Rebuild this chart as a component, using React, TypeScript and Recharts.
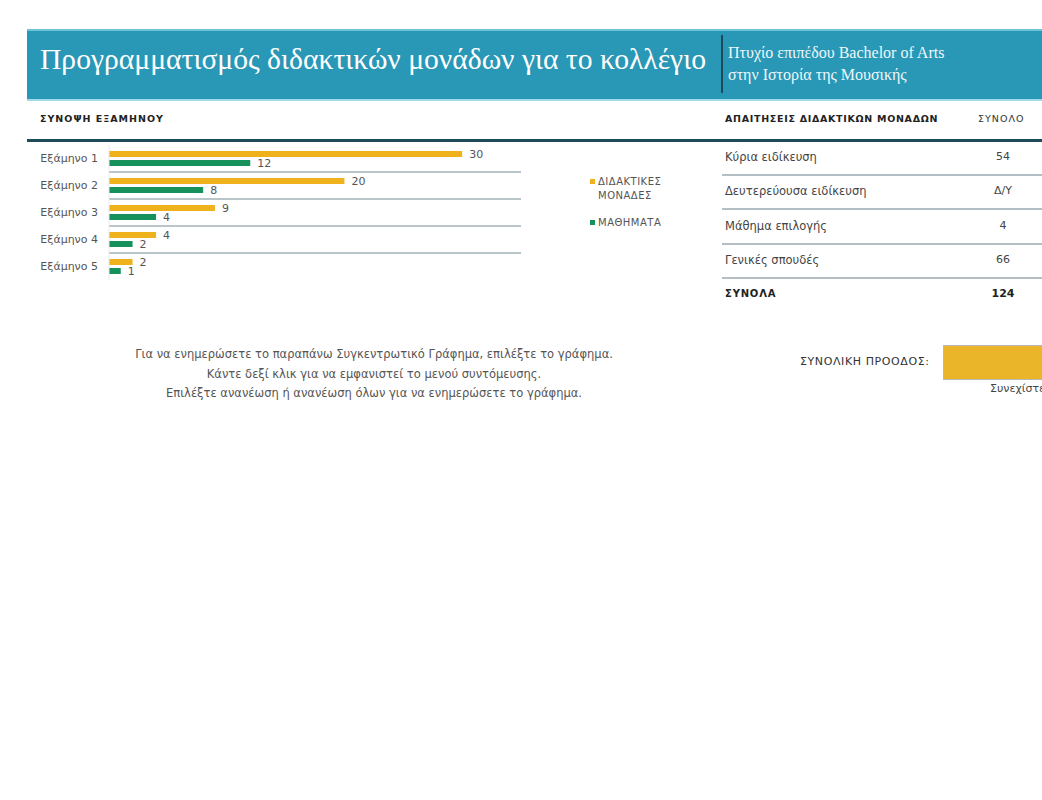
import { BarChart, Bar, XAxis, YAxis, CartesianGrid, LabelList, Legend } from 'recharts';

const semesters = ['Εξάμηνο 1', 'Εξάμηνο 2', 'Εξάμηνο 3', 'Εξάμηνο 4', 'Εξάμηνο 5'];
const credits = [30, 20, 9, 4, 2];
const courses = [12, 8, 4, 2, 1];

const requirementLabels = ['Κύρια ειδίκευση', 'Δευτερεύουσα ειδίκευση', 'Μάθημα επιλογής', 'Γενικές σπουδές'];
const requirementTotals = ['54', 'Δ/Υ', '4', '66'];
const grandTotal = '124';

const YELLOW = '#efb21c';
const GREEN = '#16915c';
const SANS = '"DejaVu Sans", "Noto Sans", sans-serif';
const SERIF = '"Liberation Serif", "DejaVu Serif", serif';

const chartData = semesters.map((name, i) => ({
  name,
  credits: credits[i],
  courses: courses[i],
}));

function LegendBox(): JSX.Element {
  const item = (color: string, lines: string[]) => (
    <div style={{ display: 'flex', alignItems: 'flex-start', marginBottom: 13 }}>
      <span style={{ width: 5, height: 5, background: color, marginTop: 4, marginRight: 3, flex: 'none' }} />
      <span style={{ fontSize: 10, lineHeight: '14px', color: '#555', letterSpacing: 0.5 }}>
        {lines.map((l) => (
          <div key={l}>{l}</div>
        ))}
      </span>
    </div>
  );
  return (
    <div style={{ fontFamily: SANS }}>
      {item(YELLOW, ['ΔΙΔΑΚΤΙΚΕΣ', 'ΜΟΝΑΔΕΣ'])}
      {item(GREEN, ['ΜΑΘΗΜΑΤΑ'])}
    </div>
  );
}

export default function App(): JSX.Element {
  const abs = (x: number, y: number, extra: React.CSSProperties = {}): React.CSSProperties => ({
    position: 'absolute',
    left: x,
    top: y,
    ...extra,
  });

  return (
    <div
      style={{
        position: 'absolute',
        left: 0,
        top: 0,
        width: 1042,
        height: 800,
        overflow: 'hidden',
        background: '#fff',
        fontFamily: SANS,
      }}
    >
      {/* banner */}
      <div
        style={abs(27, 29, {
          width: 1015,
          height: 68,
          background: '#2997b6',
          borderTop: '2px solid #6fc2d6',
          borderBottom: '2px solid #9fdbe8',
        })}
      />
      <div style={abs(40, 43, { fontFamily: SERIF, fontSize: 29.6, color: '#fff', whiteSpace: 'nowrap' })}>
        Προγραμματισμός διδακτικών μονάδων για το κολλέγιο
      </div>
      <div style={abs(721, 35, { width: 2, height: 58, background: '#1d4a5a' })} />
      <div
        style={abs(728, 42, {
          fontFamily: SERIF,
          fontSize: 16,
          lineHeight: '22px',
          color: '#eef8fb',
          whiteSpace: 'nowrap',
        })}
      >
        <div>Πτυχίο επιπέδου Bachelor of Arts</div>
        <div>στην Ιστορία της Μουσικής</div>
      </div>

      {/* section headers */}
      <div style={abs(40, 113, { fontSize: 9.5, fontWeight: 700, color: '#222', letterSpacing: 1 })}>
        ΣΥΝΟΨΗ ΕΞΑΜΗΝΟΥ
      </div>
      <div style={abs(725, 113, { fontSize: 9.5, fontWeight: 700, color: '#222', letterSpacing: 0.7 })}>
        ΑΠΑΙΤΗΣΕΙΣ ΔΙΔΑΚΤΙΚΩΝ ΜΟΝΑΔΩΝ
      </div>
      <div style={abs(978, 113, { fontSize: 9.5, color: '#333', letterSpacing: 1 })}>ΣΥΝΟΛΟ</div>
      <div style={abs(27, 139, { width: 1015, height: 3, background: '#1f4a5a' })} />

      {/* chart */}
      <div style={abs(27, 140)}>
        <BarChart
          width={680}
          height={145}
          data={chartData}
          layout="vertical"
          margin={{ top: 5, right: 86, bottom: 5, left: 0 }}
          barSize={6}
          barGap={3}
        >
          <CartesianGrid
            vertical={false}
            stroke="#b9c5c9"
            strokeWidth={2}
            horizontalCoordinatesGenerator={({ offset }: any) =>
              semesters.slice(1).map((_, i) => offset.top + (offset.height * (i + 1)) / semesters.length)
            }
          />
          <XAxis type="number" domain={[0, 35]} hide />
          <YAxis
            type="category"
            dataKey="name"
            width={82}
            tickLine={false}
            axisLine={{ stroke: '#e6eaec' }}
            tickMargin={5}
            tick={{ fontSize: 11, fill: '#555', fontFamily: SANS }}
          />
          <Legend
            layout="vertical"
            align="right"
            verticalAlign="top"
            content={() => <LegendBox />}
            wrapperStyle={{ position: 'absolute', left: 563, top: 35, width: 100 }}
          />
          <Bar dataKey="credits" name="ΔΙΔΑΚΤΙΚΕΣ ΜΟΝΑΔΕΣ" fill={YELLOW} isAnimationActive={false}>
            <LabelList dataKey="credits" position="right" offset={7} fill="#555" fontSize={11} fontFamily={SANS} />
          </Bar>
          <Bar dataKey="courses" name="ΜΑΘΗΜΑΤΑ" fill={GREEN} isAnimationActive={false}>
            <LabelList dataKey="courses" position="right" offset={7} fill="#555" fontSize={11} fontFamily={SANS} />
          </Bar>
        </BarChart>
      </div>

      {/* requirements table */}
      {requirementLabels.map((label, i) => (
        <div key={label}>
          <div style={abs(725, 150 + i * 34.3, { fontSize: 11.5, color: '#444' })}>{label}</div>
          <div style={abs(963, 150 + i * 34.3, { width: 80, textAlign: 'center', fontSize: 11, color: '#444' })}>
            {requirementTotals[i]}
          </div>
          <div style={abs(722, 174 + i * 34.3, { width: 320, height: 2, background: '#b3bfc4' })} />
        </div>
      ))}
      <div style={abs(725, 288, { fontSize: 10, fontWeight: 700, color: '#222', letterSpacing: 0.8 })}>ΣΥΝΟΛΑ</div>
      <div style={abs(963, 287, { width: 80, textAlign: 'center', fontSize: 11, fontWeight: 700, color: '#222' })}>
        {grandTotal}
      </div>

      {/* instructions */}
      <div
        style={abs(90, 345, {
          width: 568,
          textAlign: 'center',
          fontSize: 11.5,
          lineHeight: '19.5px',
          color: '#555',
        })}
      >
        <div>Για να ενημερώσετε το παραπάνω Συγκεντρωτικό Γράφημα, επιλέξτε το γράφημα.</div>
        <div>Κάντε δεξί κλικ για να εμφανιστεί το μενού συντόμευσης.</div>
        <div>Επιλέξτε ανανέωση ή ανανέωση όλων για να ενημερώσετε το γράφημα.</div>
      </div>

      {/* overall progress */}
      <div style={abs(800, 355, { fontSize: 11, color: '#333', letterSpacing: 0.6 })}>ΣΥΝΟΛΙΚΗ ΠΡΟΟΔΟΣ:</div>
      <div style={abs(943, 345, { width: 120, height: 33, background: '#ebb52a', border: '1px solid #b8b8b8' })} />
      <div style={abs(990, 382, { fontSize: 11, color: '#444', whiteSpace: 'nowrap' })}>Συνεχίστε</div>
    </div>
  );
}
